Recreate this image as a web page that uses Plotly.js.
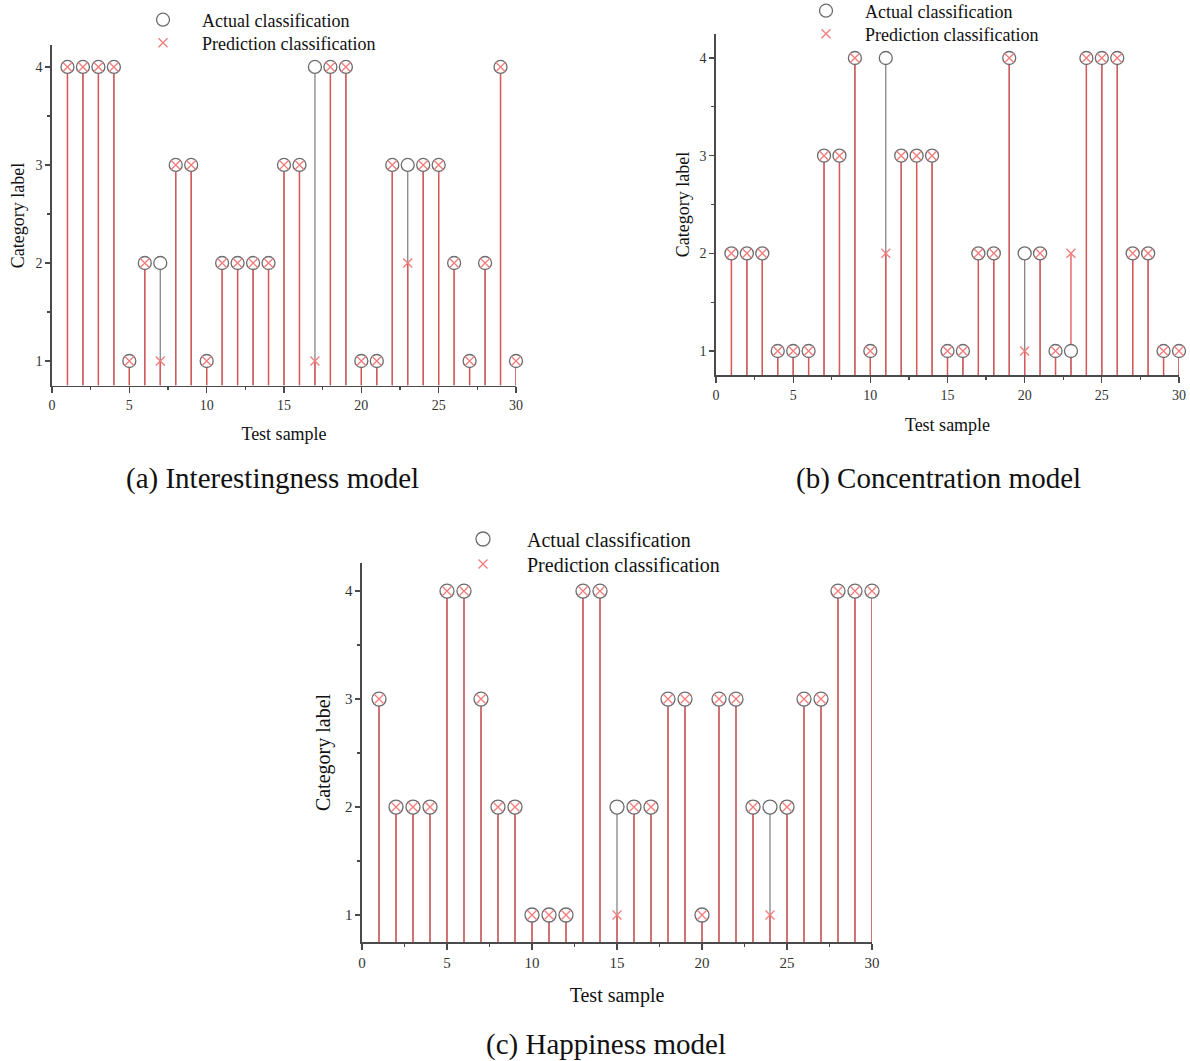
<!DOCTYPE html>
<html>
<head>
<meta charset="utf-8">
<script src="https://cdn.plot.ly/plotly-3.0.1.min.js"></script>
<style>
html,body{margin:0;padding:0;background:#fff;}
#chart{width:1190px;height:1061px;}
</style>
</head>
<body>
<div id="chart"></div>
<script>
// ---------- data ----------
const samples = [1,2,3,4,5,6,7,8,9,10,11,12,13,14,15,16,17,18,19,20,21,22,23,24,25,26,27,28,29,30];

const actualA  = [4,4,4,4,1,2,2,3,3,1,2,2,2,2,3,3,4,4,4,1,1,3,3,3,3,2,1,2,4,1];
const predictA = [4,4,4,4,1,2,1,3,3,1,2,2,2,2,3,3,1,4,4,1,1,3,2,3,3,2,1,2,4,1];

const actualB  = [2,2,2,1,1,1,3,3,4,1,4,3,3,3,1,1,2,2,4,2,2,1,1,4,4,4,2,2,1,1];
const predictB = [2,2,2,1,1,1,3,3,4,1,2,3,3,3,1,1,2,2,4,1,2,1,2,4,4,4,2,2,1,1];

const actualC  = [3,2,2,2,4,4,3,2,2,1,1,1,4,4,2,2,2,3,3,1,3,3,2,2,2,3,3,4,4,4];
const predictC = [3,2,2,2,4,4,3,2,2,1,1,1,4,4,1,2,2,3,3,1,3,3,2,1,2,3,3,4,4,4];

const xTickLabels = ['0','5','10','15','20','25','30'];
const yTickLabels = ['1','2','3','4'];
const xTickVals = [0,5,10,15,20,25,30];
const yTickVals = [1,2,3,4];

const legendNames = ['Actual classification','Prediction classification'];
const captions = ['(a) Interestingness model','(b) Concentration model','(c) Happiness model'];

// ---------- styling ----------
const FONT = 'Liberation Serif, Times New Roman, serif';
const GRAY_STEM = '#858585';
const RED_STEM = '#e25256';
const CIRCLE = '#6c6c6c';
const CROSS = '#f27b7b';
const AXIS = '#4a4a4a';

const panels = [
  {actual: actualA, pred: predictA, xa:'x',  ya:'y',  legA:'legend',  legP:'legend2', base:0.75, msize:13},
  {actual: actualB, pred: predictB, xa:'x2', ya:'y2', legA:'legend3', legP:'legend4', base:0.75, msize:13},
  {actual: actualC, pred: predictC, xa:'x3', ya:'y3', legA:'legend5', legP:'legend6', base:0.75, msize:14}
];

const traces = [];
panels.forEach(p => {
  traces.push({
    x: samples, y: p.actual, xaxis: p.xa, yaxis: p.ya, type:'scatter', mode:'markers',
    cliponaxis:false,
    marker:{size:2, color:'rgba(0,0,0,0)'}, showlegend:false, hoverinfo:'skip',
    error_y:{type:'data', symmetric:false, array: p.actual.map(()=>0),
             arrayminus: p.actual.map(v=>v-p.base), width:0, thickness:1.3, color:GRAY_STEM}
  });
  traces.push({
    x: samples, y: p.pred, xaxis: p.xa, yaxis: p.ya, type:'scatter', mode:'markers',
    cliponaxis:false,
    marker:{size:2, color:'rgba(0,0,0,0)'}, showlegend:false, hoverinfo:'skip',
    error_y:{type:'data', symmetric:false, array: p.pred.map(()=>0),
             arrayminus: p.pred.map(v=>v-p.base), width:0, thickness:1.3, color:RED_STEM}
  });
  traces.push({
    x: samples, y: p.actual, xaxis: p.xa, yaxis: p.ya, type:'scatter', mode:'markers',
    cliponaxis:false,
    name: legendNames[0], legend: p.legA,
    marker:{symbol:'circle', size:p.msize, color:'#ffffff', line:{color:CIRCLE, width:1.3}}
  });
  traces.push({
    x: samples, y: p.pred, xaxis: p.xa, yaxis: p.ya, type:'scatter', mode:'markers',
    cliponaxis:false,
    name: legendNames[1], legend: p.legP,
    marker:{symbol:'x-thin-open', size:9, color:CROSS, line:{color:CROSS, width:1.3}}
  });
});

function xaxisCfg(domain, yref, fs, tfs, so) {
  return {
    domain: domain, anchor: yref, range:[0,30], tickmode:'array',
    tickvals: xTickVals, ticktext: xTickLabels,
    ticks:'outside', ticklen:6, tickwidth:1.3, tickcolor:AXIS,
    showline:true, linecolor:AXIS, linewidth:1.6, showgrid:false, zeroline:false,
    minor:{dtick:2.5, tick0:0, ticks:'outside', ticklen:3, tickwidth:1.3, tickcolor:AXIS},
    tickfont:{family:FONT, size:fs, color:'#333'},
    title:{text:'Test sample', font:{family:FONT, size:tfs, color:'#111'}, standoff:so}
  };
}
function yaxisCfg(domain, xref, top, fs, tfs, so) {
  return {
    domain: domain, anchor: xref, range:[0.75, top], tickmode:'array',
    tickvals: yTickVals, ticktext: yTickLabels,
    ticks:'outside', ticklen:5, tickwidth:1.3, tickcolor:AXIS,
    showline:true, linecolor:AXIS, linewidth:1.6, showgrid:false, zeroline:false,
    minor:{tickvals:[1.5,2.5,3.5], ticks:'outside', ticklen:3, tickwidth:1.3, tickcolor:AXIS},
    tickfont:{family:FONT, size:fs, color:'#333'},
    title:{text:'Category label', font:{family:FONT, size:tfs, color:'#111'}, standoff:so}
  };
}

const W = 1190, H = 1061;
function leg(xSym, yRow, iw, fs) {
  return {x:(xSym - iw/2 - 5)/W, y:1 - yRow/H, xanchor:'left', yanchor:'middle',
          bgcolor:'rgba(0,0,0,0)', itemwidth:iw, font:{family:FONT, size:fs, color:'#111'}};
}
const layout = {
  width: W, height: H,
  margin:{l:0, r:0, t:0, b:0, autoexpand:false},
  paper_bgcolor:'#ffffff', plot_bgcolor:'#ffffff',
  font:{family:FONT},
  xaxis:  xaxisCfg([52/W, 516/W], 'y', 14, 18, 15),
  yaxis:  yaxisCfg([1-385.5/H, 1-45.4/H], 'x', 4.22, 14, 18, 6),
  xaxis2: xaxisCfg([716/W, 1179/W], 'y2', 14, 18, 16),
  yaxis2: yaxisCfg([1-375.4/H, 1-33.6/H], 'x2', 4.25, 14, 18, 5),
  xaxis3: xaxisCfg([362/W, 872/W], 'y3', 15, 20, 18),
  yaxis3: yaxisCfg([1-942/H, 1-563/H], 'x3', 4.26, 15, 20, 9),
  legend:  leg(163, 20, 68, 18),
  legend2: leg(163, 43, 68, 18),
  legend3: leg(826, 11, 68, 18),
  legend4: leg(826, 34, 68, 18),
  legend5: leg(483, 539, 78, 20),
  legend6: leg(483, 564, 78, 20),
  annotations: [
    {text:captions[0], x:272/W, y:1-478/H, xref:'paper', yref:'paper', showarrow:false, xanchor:'center', yanchor:'middle', font:{family:FONT, size:29, color:'#111'}},
    {text:captions[1], x:938/W, y:1-478/H, xref:'paper', yref:'paper', showarrow:false, xanchor:'center', yanchor:'middle', font:{family:FONT, size:29, color:'#111'}},
    {text:captions[2], x:606/W, y:1-1044/H, xref:'paper', yref:'paper', showarrow:false, xanchor:'center', yanchor:'middle', font:{family:FONT, size:29, color:'#111'}}
  ]
};

Plotly.newPlot('chart', traces, layout, {staticPlot:true, displayModeBar:false});
</script>
</body>
</html>
